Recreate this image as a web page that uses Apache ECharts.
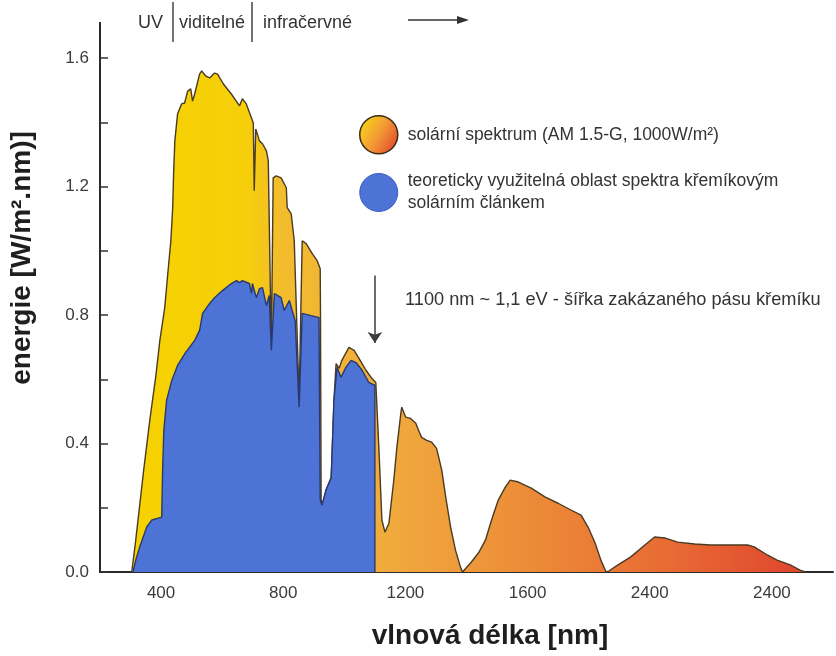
<!DOCTYPE html>
<html>
<head>
<meta charset="utf-8">
<script src="https://cdn.jsdelivr.net/npm/echarts@6/dist/echarts.min.js"></script>
<style>
  html, body { margin: 0; padding: 0; background: #ffffff; }
  #chart { width: 836px; height: 656px; }
</style>
</head>
<body>
<div id="chart"></div>
<script>
// Solar spectrum AM 1.5-G: wavelength [nm] and spectral irradiance [W/m².nm]
const solarNm = [304,317,330,343,363,383,396,412,422,432,
  438,441,445,454,467,477,487,497,503,510,
  526,533,546,559,575,585,604,630,657,666,
  679,696,702,705,710,722,732,745,751,761,
  767,777,793,810,813,826,836,852,862,875,
  895,911,921,922,924,927,940,957,966,973,
  983,992,1015,1032,1048,1071,1090,1103,1113,1123,
  1133,1146,1162,1172,1185,1188,1201,1217,1234,1243,
  1253,1270,1286,1302,1319,1332,1348,1364,1380,1387,
  1393,1416,1439,1462,1482,1504,1527,1543,1570,1612,
  1658,1700,1742,1775,1798,1821,1840,1857,1866,1896,
  1938,1984,2016,2049,2091,2147,2199,2254,2320,2342,
  2385,2417,2460,2492,2509];
const solarW = [0,0.099,0.208,0.317,0.472,0.612,0.721,0.823,0.929,1.031,
  1.134,1.240,1.342,1.426,1.457,1.460,1.497,1.504,1.466,1.488,
  1.550,1.560,1.544,1.538,1.553,1.550,1.519,1.488,1.451,1.473,
  1.457,1.413,1.398,1.187,1.379,1.342,1.333,1.311,1.280,0.690,
  1.227,1.233,1.227,1.196,1.134,1.115,1.031,0.541,1.031,1.022,
  0.991,0.969,0.944,0.792,0.224,0.208,0.255,0.295,0.534,0.649,
  0.634,0.659,0.699,0.690,0.665,0.628,0.603,0.590,0.388,0.162,
  0.124,0.152,0.286,0.388,0.494,0.513,0.482,0.478,0.463,0.441,
  0.419,0.410,0.404,0.385,0.317,0.233,0.140,0.068,0.016,0,
  0.003,0.031,0.059,0.099,0.162,0.224,0.264,0.286,0.280,0.261,
  0.233,0.214,0.193,0.177,0.140,0.090,0.037,0,0.003,0.022,
  0.047,0.084,0.109,0.106,0.093,0.087,0.084,0.084,0.084,0.078,
  0.053,0.037,0.022,0.006,0];

// Part of the spectrum usable by a silicon cell (up to the 1100 nm band gap)
const siliconNm = [308,317,330,353,370,402,405,409,418,435,
  454,480,510,526,536,559,575,601,630,647,
  657,666,689,696,699,712,722,732,745,754,
  761,771,793,803,820,829,839,852,862,891,
  917,921,927,940,957,966,976,989,1005,1022,
  1038,1058,1080,1100,1100];
const siliconW = [0,0.037,0.078,0.140,0.162,0.171,0.317,0.441,0.534,0.596,
  0.643,0.683,0.721,0.752,0.805,0.836,0.854,0.876,0.898,0.907,
  0.901,0.907,0.898,0.867,0.898,0.854,0.882,0.885,0.829,0.861,
  0.690,0.867,0.854,0.814,0.845,0.814,0.783,0.513,0.805,0.798,
  0.792,0.224,0.208,0.255,0.292,0.534,0.637,0.606,0.637,0.659,
  0.652,0.628,0.590,0.581,0];

// Band-gap marker
const bandGapNm = 1100;
const bandGapArrow = [0.923, 0.713];

// Axis tick labels
const xTickValues = [400, 800, 1200, 1600, 2000, 2400];
const xTickLabels = ['400', '800', '1200', '1600', '2400', '2400'];
const yTickValues = [0, 0.4, 0.8, 1.2, 1.6];
const yTickLabels = ['0.0', '0.4', '0.8', '1.2', '1.6'];

const seriesNames = [
  'solární spektrum (AM 1.5-G, 1000W/m²)',
  'teoreticky využitelná oblast spektra křemíkovým\nsolárním článkem'
];

const FONT = '"Liberation Sans", Arial, Helvetica, sans-serif';

const zip = (xs, ys) => xs.map((x, i) => [x, ys[i]]);

const solarFill = new echarts.graphic.LinearGradient(0, 0, 1, 0, [
  { offset: 0.00, color: '#f6d200' },
  { offset: 0.17, color: '#f6cf0a' },
  { offset: 0.22, color: '#f3bd2c' },
  { offset: 0.36, color: '#f0ad3c' },
  { offset: 0.45, color: '#efa03c' },
  { offset: 0.60, color: '#ec8a37' },
  { offset: 0.80, color: '#e86a34' },
  { offset: 1.00, color: '#df452d' }
]);
const legendOrange = new echarts.graphic.LinearGradient(0, 0.2, 1, 0.8, [
  { offset: 0, color: '#f7d818' },
  { offset: 0.5, color: '#f29a35' },
  { offset: 1, color: '#e2452d' }
]);
const siliconBlue = '#4d73d6';

const chart = echarts.init(document.getElementById('chart'), null, { renderer: 'canvas' });

const txt = (x, y, text, size, extra) => Object.assign({
  type: 'text', x: x, y: y, silent: true,
  style: {
    text: text, font: size + 'px ' + FONT, fill: '#333',
    align: 'left', textAlign: 'left', verticalAlign: 'middle', textVerticalAlign: 'middle'
  }
}, extra || {});

chart.setOption({
  animation: false,
  backgroundColor: '#ffffff',
  grid: { left: 100, right: 0, top: 58, bottom: 84 },
  xAxis: {
    type: 'value', min: 200, max: 2600, interval: 200,
    axisLine: { show: true, lineStyle: { color: '#2a2a2a', width: 2 } },
    axisTick: { show: false },
    splitLine: { show: false },
    axisLabel: {
      margin: 13, fontFamily: FONT, fontSize: 17, color: '#3c3c3c',
      formatter: v => { const i = xTickValues.indexOf(v); return i >= 0 ? xTickLabels[i] : ''; }
    }
  },
  yAxis: {
    type: 'value', min: 0, max: 1.6, interval: 0.2,
    axisLine: {
      show: true, lineStyle: { color: '#2a2a2a', width: 2 },
      symbol: ['none', 'rect'], symbolSize: [2, 72]
    },
    axisTick: { show: true, inside: true, length: 8, lineStyle: { color: '#333', width: 1.5 } },
    splitLine: { show: false },
    axisLabel: {
      margin: 11, fontFamily: FONT, fontSize: 17, color: '#3c3c3c',
      formatter: v => {
        const i = yTickValues.findIndex(t => Math.abs(t - v) < 1e-6);
        return i >= 0 ? yTickLabels[i] : '';
      }
    }
  },
  legend: {
    orient: 'vertical', left: 354, top: 110,
    itemWidth: 38, itemHeight: 38, itemGap: 16, icon: 'circle',
    selectedMode: false,
    textStyle: { fontFamily: FONT, fontSize: 17.5, color: '#333', lineHeight: 22, padding: [0, 0, 0, 5] },
    data: [
      { name: seriesNames[0], itemStyle: { color: legendOrange, borderColor: '#3b2b12', borderWidth: 1.5 } },
      { name: seriesNames[1], itemStyle: { color: siliconBlue, borderColor: '#3a5cbf', borderWidth: 1 } }
    ]
  },
  series: [
    {
      name: seriesNames[0], type: 'line', data: zip(solarNm, solarW),
      symbol: 'none', z: 2,
      lineStyle: { color: '#4a3b22', width: 1.4 },
      areaStyle: { color: solarFill, opacity: 1 },
      markLine: {
        silent: true, symbol: ['none', 'arrow'], symbolSize: 11,
        lineStyle: { color: '#3c3c3c', width: 1.5, type: 'solid' },
        label: { show: false },
        data: [[{ coord: [bandGapNm, bandGapArrow[0]] }, { coord: [bandGapNm, bandGapArrow[1]] }]]
      }
    },
    {
      name: seriesNames[1], type: 'line', data: zip(siliconNm, siliconW),
      symbol: 'none', z: 3,
      lineStyle: { color: '#27396f', width: 1.4 },
      areaStyle: { color: siliconBlue, opacity: 1 }
    }
  ],
  graphic: [
    txt(138, 23, 'UV', 18),
    { type: 'line', silent: true, shape: { x1: 173, y1: 2, x2: 173, y2: 42 }, style: { stroke: '#444', lineWidth: 1.5 } },
    txt(179, 23, 'viditelné', 18),
    { type: 'line', silent: true, shape: { x1: 252, y1: 2, x2: 252, y2: 42 }, style: { stroke: '#444', lineWidth: 1.5 } },
    txt(263, 23, 'infračervné', 18),
    { type: 'line', silent: true, shape: { x1: 408, y1: 20, x2: 460, y2: 20 }, style: { stroke: '#333', lineWidth: 1.5 } },
    { type: 'polygon', silent: true, shape: { points: [[457, 16], [469, 20], [457, 24]] }, style: { fill: '#333' } },
    txt(405, 300, '1100 nm ~ 1,1 eV - šířka zakázaného pásu křemíku', 18.2),
    {
      type: 'text', x: 490, y: 636, silent: true,
      style: { text: 'vlnová délka [nm]', font: 'bold 28px ' + FONT, fill: '#1e1e1e',
        align: 'center', textAlign: 'center', verticalAlign: 'middle', textVerticalAlign: 'middle' }
    },
    {
      type: 'text', x: 22, y: 258, rotation: Math.PI / 2, silent: true,
      style: { text: 'energie [W/m².nm)]', font: 'bold 28px ' + FONT, fill: '#1e1e1e',
        align: 'center', textAlign: 'center', verticalAlign: 'middle', textVerticalAlign: 'middle' }
    }
  ]
});
</script>
</body>
</html>
